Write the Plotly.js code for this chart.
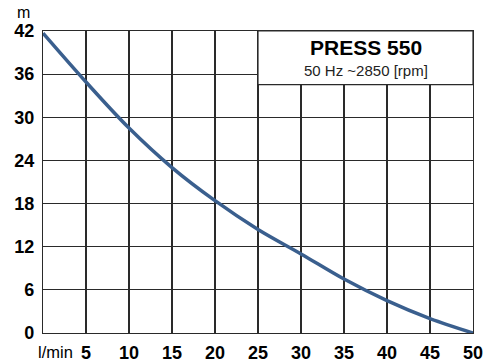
<!DOCTYPE html>
<html>
<head>
<meta charset="utf-8">
<script src="https://cdn.plot.ly/plotly-3.0.1.min.js"></script>
<style>html,body{margin:0;padding:0;background:#fff;}#chart{width:496px;height:364px;}</style>
</head>
<body>
<div id="chart"></div>
<script>
const flow = [0, 5, 10, 15, 20, 25, 30, 35, 40, 45, 50];
const head = [41.7, 34.9, 28.5, 23.0, 18.4, 14.4, 11.0, 7.5, 4.5, 2.0, 0];
const xTicks = [5, 10, 15, 20, 25, 30, 35, 40, 45, 50];
const yTicks = [0, 6, 12, 18, 24, 30, 36, 42];
const titleText = 'PRESS 550';
const subText = '50 Hz ~2850 [rpm]';
const xUnit = 'l/min';
const yUnit = 'm';

const trace = {
  x: flow, y: head, type: 'scatter', mode: 'lines',
  line: {color: '#3a5f8e', width: 3.5, shape: 'spline', smoothing: 1},
  cliponaxis: false, hoverinfo: 'skip'
};
const tickFont = {family: 'Liberation Sans, Arial, sans-serif', size: 18, color: '#000', weight: 'bold'};
const layout = {
  width: 496, height: 364,
  margin: {l: 43, r: 23, t: 31, b: 31},
  paper_bgcolor: '#fff', plot_bgcolor: '#fff',
  showlegend: false,
  xaxis: {
    range: [0, 50], tickvals: xTicks, ticktext: xTicks.map(String),
    showgrid: true, gridcolor: '#2a2a2a', gridwidth: 1.2,
    zeroline: false, showline: true, linecolor: '#2a2a2a', linewidth: 1.2, mirror: true,
    ticks: '', tickfont: tickFont, ticklabelstandoff: 3, fixedrange: true
  },
  yaxis: {
    range: [0, 42], tickvals: yTicks, ticktext: yTicks.map(String),
    showgrid: true, gridcolor: '#2a2a2a', gridwidth: 1.2,
    zeroline: false, showline: true, linecolor: '#2a2a2a', linewidth: 1.2, mirror: true,
    ticks: '', tickfont: tickFont, ticklabelstandoff: 4, fixedrange: true
  },
  shapes: [{
    type: 'rect', xref: 'x', yref: 'y', x0: 25, x1: 50, y0: 34.55, y1: 42,
    fillcolor: '#fff', line: {color: '#2a2a2a', width: 1.2}, layer: 'above'
  }],
  annotations: [
    {xref: 'x', yref: 'y', x: 37.5, y: 39.7, text: titleText, showarrow: false,
     font: {family: 'Liberation Sans, Arial, sans-serif', size: 21, color: '#000', weight: 'bold'}},
    {xref: 'x', yref: 'y', x: 37.5, y: 36.5, text: subText, showarrow: false,
     font: {family: 'Liberation Sans, Arial, sans-serif', size: 15, color: '#222'}},
    {xref: 'paper', yref: 'paper', x: 0, y: 1, xanchor: 'center', yanchor: 'middle',
     xshift: -20, yshift: 19, text: yUnit, showarrow: false,
     font: {family: 'Liberation Sans, Arial, sans-serif', size: 16, color: '#000'}},
    {xref: 'paper', yref: 'paper', x: 0, y: 0, xanchor: 'center', yanchor: 'middle',
     xshift: 12, yshift: -19, text: xUnit, showarrow: false,
     font: {family: 'Liberation Sans, Arial, sans-serif', size: 16.5, color: '#000'}}
  ]
};
Plotly.newPlot('chart', [trace], layout, {displayModeBar: false, staticPlot: true});
</script>
</body>
</html>
